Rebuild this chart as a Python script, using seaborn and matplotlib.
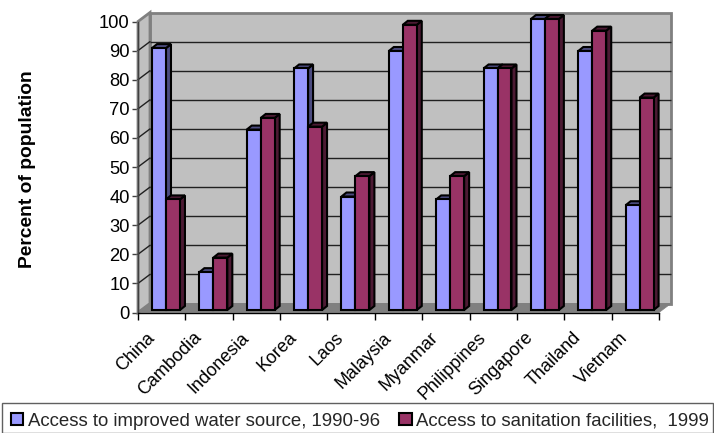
import matplotlib
matplotlib.use("Agg")
import matplotlib.pyplot as plt
from matplotlib.patches import Polygon, Rectangle
from matplotlib.transforms import Affine2D
from matplotlib.ticker import FixedLocator
import pandas as pd
import seaborn as sns

countries = ["China", "Cambodia", "Indonesia", "Korea", "Laos", "Malaysia",
             "Myanmar", "Philippines", "Singapore", "Thailand", "Vietnam"]
water = [90, 13, 62, 83, 39, 89, 38, 83, 100, 89, 36]
sanitation = [38, 18, 66, 63, 46, 98, 46, 83, 100, 96, 73]
series_names = ["Access to improved water source, 1990-96",
                "Access to sanitation facilities,  1999"]
y_ticks = list(range(0, 101, 10))

W, H = 714, 433
sns.set_theme(style="white")
plt.rcParams["font.family"] = ["Liberation Sans", "DejaVu Sans"]

df = pd.DataFrame({
    "Country": countries * 2,
    "Percent": water + sanitation,
    "Series": [series_names[0]] * len(countries) + [series_names[1]] * len(countries),
})

fig = plt.figure(figsize=(W / 100, H / 100), dpi=100, facecolor="white")
ax = fig.add_axes([138 / W, (H - 312.5) / H, (659 - 138) / W, 291 / H])
ax.patch.set_visible(False)

sns.barplot(data=df, x="Country", y="Percent", hue="Series",
            palette=["#9999FF", "#993366"], saturation=1, width=0.59, gap=0,
            edgecolor="black", linewidth=1.5, ax=ax)
ax.set_xlim(-0.5, len(countries) - 0.5)
ax.set_ylim(0, 100)


def off(dx, dy):
    return ax.transData + Affine2D().translate(dx, dy)


# Chart "box": back wall, side wall, floor
DX, DY = 12, 9
x0, x1 = ax.get_xlim()
back = off(DX, DY)
ax.add_patch(Polygon([(x0, 0), (x1, 0), (x1, 100), (x0, 100)], closed=True,
                     facecolor="#C0C0C0", edgecolor="#808080", linewidth=2,
                     transform=back, clip_on=False, zorder=0.5))

side_px = [(0, 0), (DX, DY), (DX, 291 + DY), (0, 291)]
base = ax.transAxes.transform((0, 0))
side_tr = Affine2D().translate(*base)
ax.add_patch(Polygon(side_px, closed=True, facecolor="#C0C0C0", edgecolor="#808080",
                     linewidth=2, transform=side_tr, clip_on=False, zorder=0.6))
w_px = 521
floor_px = [(0, 0), (w_px, 0), (w_px + DX, DY), (DX, DY)]
ax.add_patch(Polygon(floor_px, closed=True, facecolor="#808080", edgecolor="#808080",
                     linewidth=0.5, transform=side_tr, clip_on=False, zorder=0.7))

# Gridlines on the walls
for v in y_ticks[1:-1]:
    ax.plot([x0, x1], [v, v], color="#202020", lw=1, transform=back,
            clip_on=False, zorder=0.8, solid_capstyle="butt")
    yp = v * 2.91
    ax.plot([0, DX], [yp, yp + DY], color="#202020", lw=1, transform=side_tr,
            clip_on=False, zorder=0.8)

# Extrude the bars
BX, BY = 4.3, 2.5   # shift of bars on the floor
DEPTH_X, DEPTH_Y = 5, 4
front = off(BX, BY)
sx = ax.transData.get_matrix()[0, 0]
sy = ax.transData.get_matrix()[1, 1]
z = 2.0
for cont, side_c, top_c in zip(ax.containers, ["#4C4C80", "#4C1A33"], ["#4C4C80", "#4C1A33"]):
    for p in cont.patches:
        xa, xb = p.get_x(), p.get_x() + p.get_width()
        v = p.get_height()
        p.set_transform(front)
        p.set_clip_on(False)
        p.set_zorder(z + 0.2)
        p.set_joinstyle("miter")
        ex, ey = DEPTH_X / sx, DEPTH_Y / sy
        ax.add_patch(Polygon([(xb, 0), (xb + ex, ey), (xb + ex, v + ey), (xb, v)], closed=True,
                             facecolor=side_c, edgecolor="black", linewidth=1.5,
                             transform=front, clip_on=False, zorder=z))
        ax.add_patch(Polygon([(xa, v), (xa + ex, v + ey), (xb + ex, v + ey), (xb, v)], closed=True,
                             facecolor=top_c, edgecolor="black", linewidth=1.5,
                             transform=front, clip_on=False, zorder=z + 0.1))
    z += 1

# Axes
for s in ["top", "right"]:
    ax.spines[s].set_visible(False)
ax.spines["left"].set_color("#404040")
ax.spines["left"].set_linewidth(1)
ax.spines["bottom"].set_color("black")
ax.spines["bottom"].set_linewidth(1)
for s in ["left", "bottom"]:
    ax.spines[s].set_zorder(1)

ax.set_yticks(y_ticks)
ax.tick_params(axis="y", which="major", left=True, length=4, width=1, color="#404040",
               labelsize=13.2, labelcolor="black", pad=2)
ax.xaxis.set_minor_locator(FixedLocator([i - 0.5 for i in range(len(countries) + 1)]))
ax.tick_params(axis="x", which="minor", bottom=True, length=5, width=1, color="black")
ax.tick_params(axis="x", which="major", bottom=False, length=0, labelsize=13,
               labelcolor="black", pad=12)
ax.set_xticks(range(len(countries)))
ax.set_xticklabels(countries, rotation=45, ha="right", rotation_mode="anchor")
for lab in ax.get_xticklabels():
    lab.set_transform(lab.get_transform() + Affine2D().translate(-16, 0))
ax.set_xlabel("")
ax.set_ylabel("")
fig.text(28 / W, (H - 169) / H, "Percent of population", rotation=90, ha="center", va="center",
         fontsize=13.9, fontweight="bold", color="black")

# Legend strip
fig.add_artist(Rectangle((1.5 / W, 0.5 / H), 711.5 / W, 29.5 / H, transform=fig.transFigure,
                         facecolor="white", edgecolor="#606060", linewidth=1))
handles, labels = ax.get_legend_handles_labels()
if ax.get_legend() is not None:
    ax.get_legend().remove()
leg = fig.legend(handles, labels, ncol=2, loc="center left",
                 bbox_to_anchor=(11 / W, 12 / H),
                 frameon=False, fontsize=13.4, handlelength=0.65, handleheight=0.65,
                 handletextpad=0.25, columnspacing=1.05, borderaxespad=0, borderpad=0)
for h in leg.legend_handles:
    h.set_edgecolor("black")
    h.set_linewidth(1.5)

fig.savefig("out.png", dpi=100)
